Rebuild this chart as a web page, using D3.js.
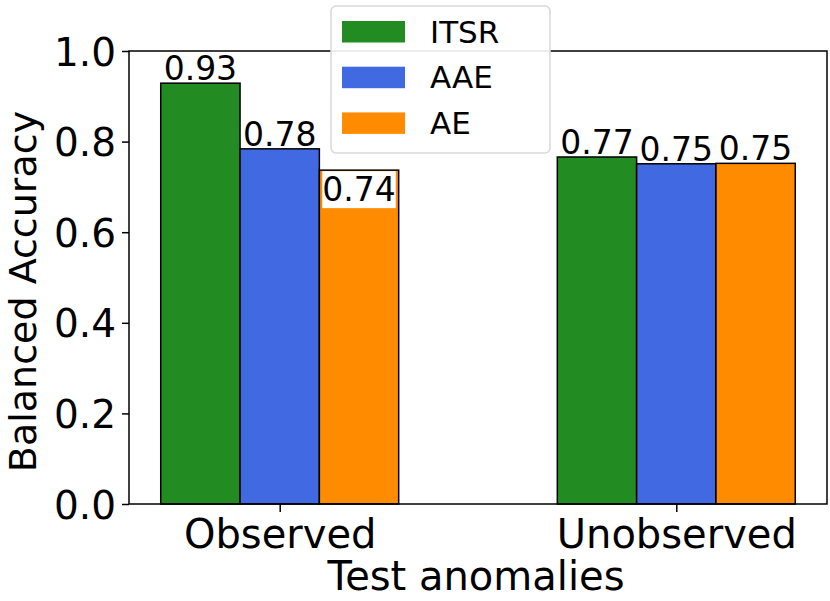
<!DOCTYPE html>
<html>
<head>
<meta charset="utf-8">
<script src="https://cdn.jsdelivr.net/npm/d3@7"></script>
<style>
  body { margin: 0; background: #fff; }
  text { font-family: "DejaVu Sans", sans-serif; fill: #000; }
</style>
</head>
<body>
<div id="svg-container"></div>
<script>
// data
const categories = ["Observed", "Unobserved"];
const seriesNames = ["ITSR", "AAE", "AE"];
const seriesColors = ["#228B22", "#4169E1", "#FF8C00"];
const itsr = [0.929, 0.766];
const aae = [0.784, 0.751];
const ae = [0.737, 0.752];
const yTicks = [0.0, 0.2, 0.4, 0.6, 0.8, 1.0];

const values = [itsr, aae, ae];

// svg
const width = 830, height = 601;
const margin = { top: 51, right: 3, bottom: 97, left: 129 };

const svg = d3.select("#svg-container").append("svg")
  .attr("width", width).attr("height", height);

// scale (matplotlib style: x = 0,1 with bar width 0.2, 5% margins)
const xScale = d3.scaleLinear().domain([-0.38, 1.38]).range([margin.left, width - margin.right]);
const yScale = d3.scaleLinear().domain([0, 1]).range([height - margin.bottom, margin.top]);
const barW = 0.2;

// bars
const bars = [];
values.forEach((arr, s) => {
  arr.forEach((v, c) => bars.push({ s, c, v }));
});

svg.selectAll("rect.bar").data(bars).join("rect")
  .attr("class", "bar")
  .attr("x", d => xScale(d.c + (d.s - 1.5) * barW))
  .attr("width", d => xScale(barW) - xScale(0))
  .attr("y", d => yScale(d.v))
  .attr("height", d => yScale(0) - yScale(d.v))
  .attr("fill", d => seriesColors[d.s])
  .attr("stroke", "#000")
  .attr("stroke-width", 1.5);

// value labels
const labelG = svg.append("g");
bars.forEach(d => {
  const cx = xScale(d.c + (d.s - 1) * barW);
  const inside = d.c === 0 && d.s === 2; // 0.74 sits under the legend -> drawn in the bar
  const t = labelG.append("text")
    .attr("x", cx)
    .attr("y", inside ? yScale(d.v) + 31 : yScale(d.v) - 3)
    .attr("text-anchor", "middle")
    .style("font-size", "33px")
    .text(d3.format(".2f")(d.v));
  if (inside) {
    const bb = t.node().getBBox();
    labelG.insert("rect", "text")
      .attr("x", bb.x).attr("y", bb.y + 1)
      .attr("width", bb.width).attr("height", bb.height - 2)
      .attr("fill", "#fff");
  }
});

// frame
svg.append("rect")
  .attr("x", margin.left).attr("y", margin.top)
  .attr("width", width - margin.right - margin.left)
  .attr("height", height - margin.bottom - margin.top)
  .attr("fill", "none").attr("stroke", "#000").attr("stroke-width", 1.5);

// axis
const yAxis = d3.axisLeft(yScale).tickValues(yTicks).tickFormat(d3.format(".1f"))
  .tickSize(7).tickPadding(6).tickSizeOuter(0);
svg.append("g")
  .attr("class", "y-axis")
  .attr("transform", `translate(${margin.left},0)`)
  .call(yAxis)
  .call(g => g.select(".domain").remove())
  .call(g => g.selectAll("text").style("font-size", "39px").attr("dy", "0.36em"))
  .call(g => g.selectAll("line").attr("stroke-width", 1.5));

const xAxis = d3.axisBottom(xScale).tickValues([0, 1]).tickFormat((d, i) => categories[i])
  .tickSize(8).tickPadding(6).tickSizeOuter(0);
svg.append("g")
  .attr("class", "x-axis")
  .attr("transform", `translate(0,${height - margin.bottom})`)
  .call(xAxis)
  .call(g => g.select(".domain").remove())
  .call(g => g.selectAll("text").style("font-size", "40px").attr("dy", "0.76em"))
  .call(g => g.selectAll("line").attr("stroke-width", 1.5));

// axis titles
svg.append("text")
  .attr("x", 476)
  .attr("y", 590)
  .attr("text-anchor", "middle")
  .style("font-size", "40px")
  .text("Test anomalies");

svg.append("text")
  .attr("transform", `translate(36,${(margin.top + height - margin.bottom) / 2 + 14}) rotate(-90)`)
  .attr("text-anchor", "middle")
  .style("font-size", "38px")
  .text("Balanced Accuracy");

// legend
const legend = svg.append("g").attr("transform", "translate(331,6)");
legend.append("rect")
  .attr("width", 219).attr("height", 147)
  .attr("rx", 5).attr("ry", 5)
  .attr("fill", "#fff").attr("fill-opacity", 0.9)
  .attr("stroke", "#d9d9d9").attr("stroke-width", 1.5);

seriesNames.forEach((name, i) => {
  const row = legend.append("g").attr("transform", `translate(0,${i * 45.7})`);
  row.append("rect")
    .attr("x", 11).attr("y", 15)
    .attr("width", 63).attr("height", 21.5)
    .attr("fill", seriesColors[i]);
  row.append("text")
    .attr("x", 99).attr("y", 36.5)
    .style("font-size", "31px")
    .text(name);
});
</script>
</body>
</html>
